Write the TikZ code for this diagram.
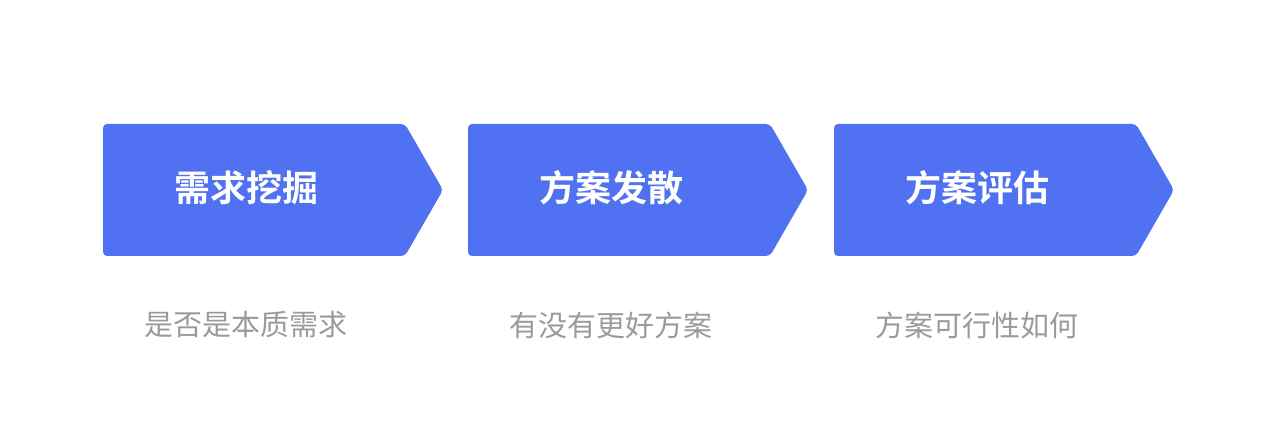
\documentclass[tikz,border=0pt]{standalone}
\usepackage{fontspec}
\newfontfamily\cjk{Noto Sans CJK SC}
\newfontfamily\cjkb{Noto Sans CJK SC Bold}
\definecolor{blu}{HTML}{5072F2}
\definecolor{gry}{HTML}{9A9A9A}
\begin{document}
\begin{tikzpicture}[x=1pt,y=-1pt,
  chev/.style={fill=blu,rounded corners=4pt},
  ttl/.style={text=white,font=\cjkb\fontsize{36}{40}\selectfont},
  sub/.style={text=gry,font=\cjk\fontsize{29}{32}\selectfont}]
\useasboundingbox (0,0) rectangle (1280,427);
\foreach \x/\t/\s/\n in {103/需求挖掘/是否是本质需求/a,468/方案发散/有没有更好方案/b,834/方案评估/方案可行性如何/c}{
  \fill[chev] (\x,124) -- (\x+302,124) -- (\x+340,190) -- (\x+302,256) -- (\x,256) -- cycle;
  \node[ttl] (t\n) at (\x+143,188) {\t};
  \node[sub] (s\n) at (\x+143,325) {\s};
}
\end{tikzpicture}
\end{document}
